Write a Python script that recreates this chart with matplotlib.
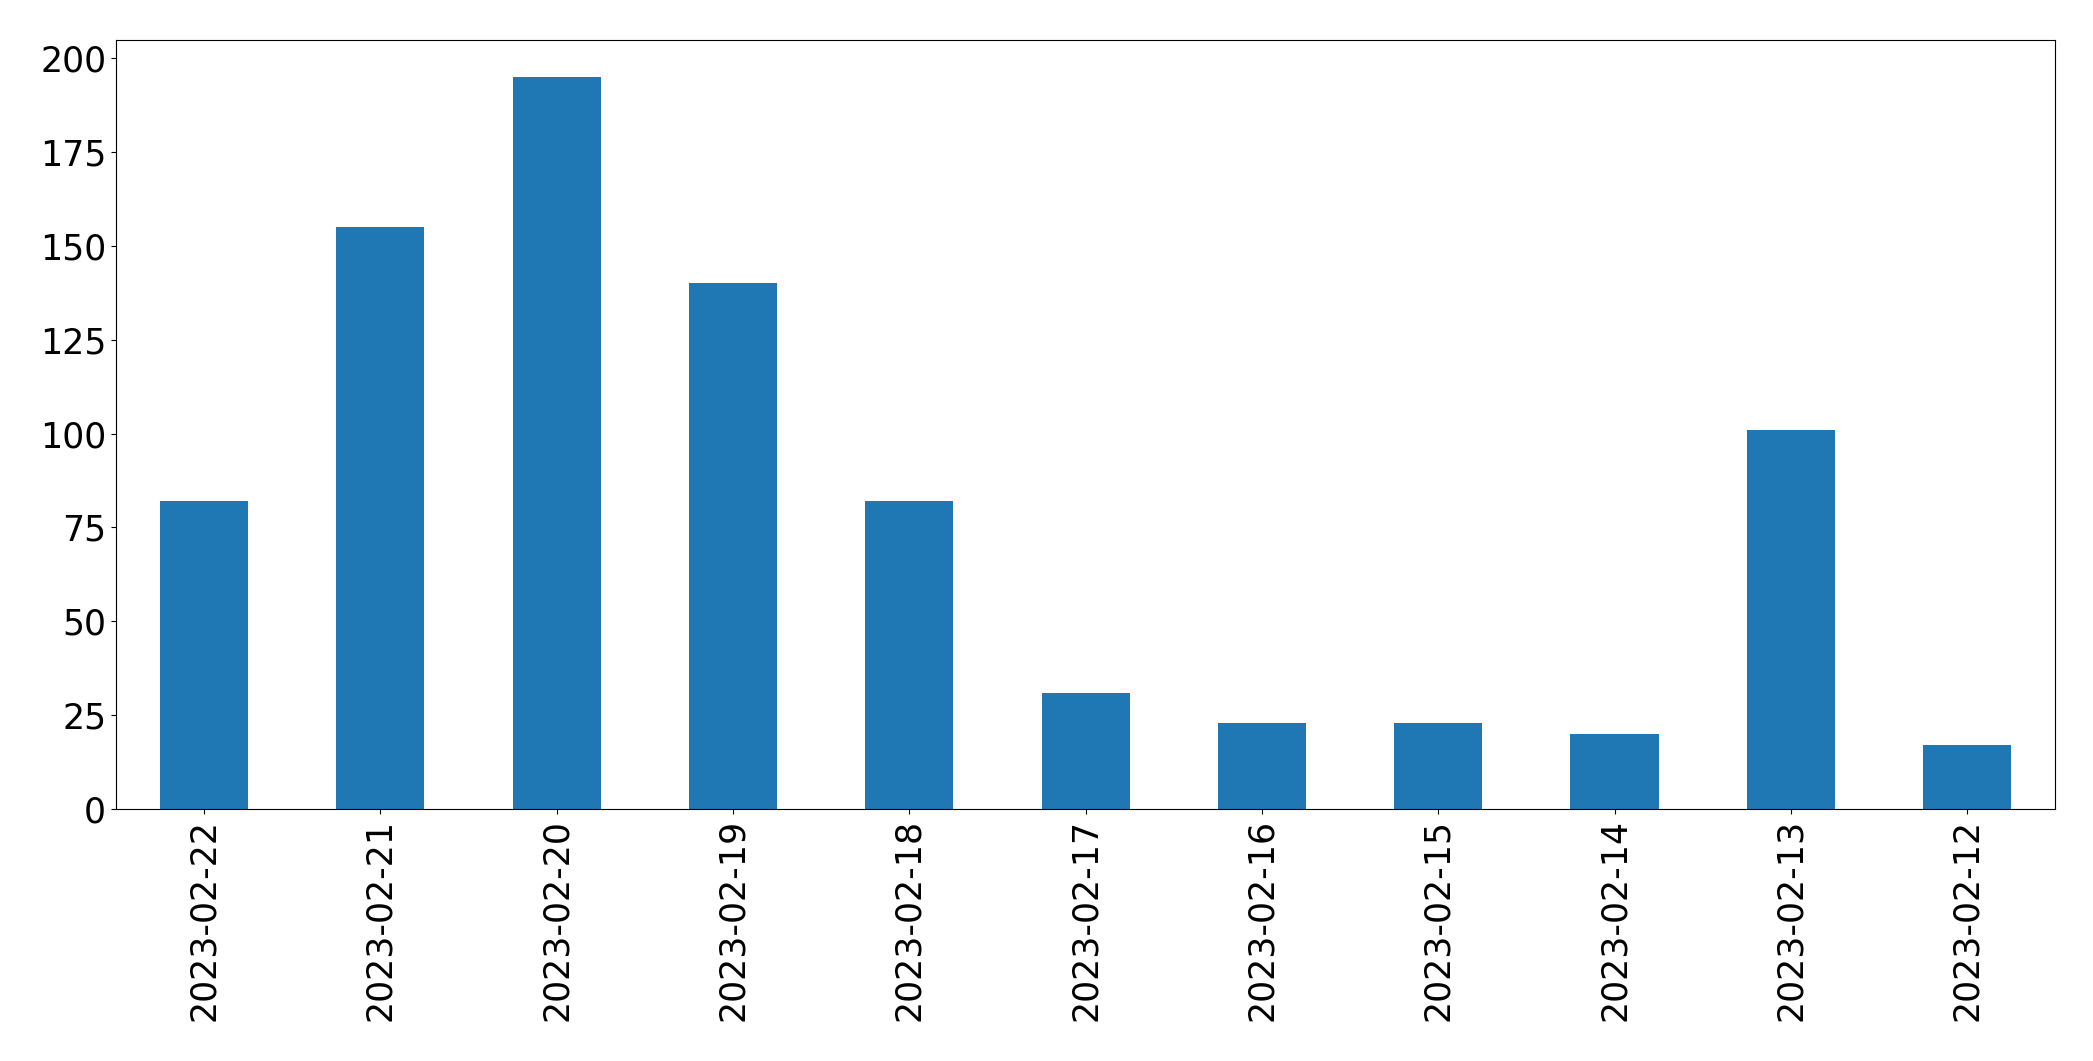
import pandas as pd
import matplotlib
matplotlib.use("Agg")
import matplotlib.pyplot as plt

dates = ["2023-02-22", "2023-02-21", "2023-02-20", "2023-02-19", "2023-02-18",
         "2023-02-17", "2023-02-16", "2023-02-15", "2023-02-14", "2023-02-13",
         "2023-02-12"]
counts = [82, 155, 195, 140, 82, 31, 23, 23, 20, 101, 17]


def main():
    s = pd.Series(counts, index=dates)
    fig = plt.figure(figsize=(20.93, 10.61), dpi=100)
    ax = fig.gca()
    s.plot.bar(ax=ax, color="#1f77b4", fontsize=25)
    plt.subplots_adjust(left=0.0554, right=0.982, top=0.962, bottom=0.2375)
    plt.savefig("out.png", dpi=100)


main()
